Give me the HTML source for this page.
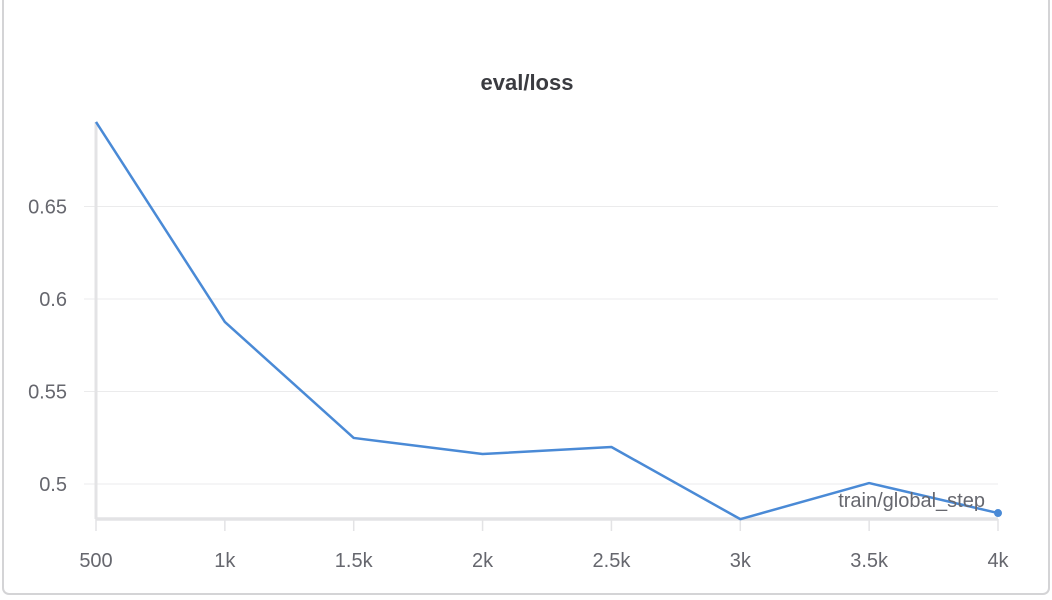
<!DOCTYPE html>
<html><head><meta charset="utf-8"><style>
html,body{margin:0;padding:0;background:#fff;width:1052px;height:600px;overflow:hidden}
svg{display:block;font-family:"Liberation Sans",sans-serif}
</style></head><body>
<svg id="chart" width="1052" height="600">
<rect x="3" y="-10" width="1046" height="604" rx="6" fill="#fff" stroke="#d4d4d6" stroke-width="2"/>
<text x="527" y="90" text-anchor="middle" font-size="22" font-weight="bold" fill="#3a3b40">eval/loss</text>
<g id="grid"></g><g id="axes"></g><g id="series"></g>
<text x="985" y="507" text-anchor="end" font-size="20" fill="#66676e">train/global_step</text>
</svg>
<script>
const steps=[500,1000,1500,2000,2500,3000,3500,4000];
const loss=[0.6957,0.5876,0.5249,0.5162,0.5200,0.4810,0.5005,0.4843];
const xTicks=[500,1000,1500,2000,2500,3000,3500,4000];
const xTickLabels=["500","1k","1.5k","2k","2.5k","3k","3.5k","4k"];
const yTicks=[0.5,0.55,0.6,0.65];
const yTickLabels=["0.5","0.55","0.6","0.65"];
const NS="http://www.w3.org/2000/svg";
const xs=v=>96+(v-500)/3500*902;
const ys=v=>484-(v-0.5)/0.05*92.5;
function mk(t,a,p){const e=document.createElementNS(NS,t);for(const k in a)e.setAttribute(k,a[k]);p.appendChild(e);return e;}
const grid=document.getElementById('grid'),axes=document.getElementById('axes'),ser=document.getElementById('series');
yTicks.forEach((v,i)=>{
 const l=mk('line',{x1:84,x2:998,y1:ys(v),y2:ys(v),stroke:'#ebebec','stroke-width':1},grid);
 
 
 const t=mk('text',{x:67,y:ys(v)+7,'text-anchor':'end','font-size':20,fill:'#66676e'},axes);
 t.textContent=yTickLabels[i];
 
 
});
const ya=mk('line',{x1:96,x2:96,y1:122,y2:519,stroke:'#e3e3e5','stroke-width':3},axes);


const xa=mk('line',{x1:96,x2:998,y1:519,y2:519,stroke:'#e3e3e5','stroke-width':3.5},axes);


xTicks.forEach((v,i)=>{
 const tk=mk('line',{x1:xs(v),x2:xs(v),y1:519,y2:531,stroke:'#e3e3e5','stroke-width':1.5},axes);
 
 
 const t=mk('text',{x:xs(v),y:567,'text-anchor':'middle','font-size':20,fill:'#66676e'},axes);
 t.textContent=xTickLabels[i];
 
 
});
const pl=mk('polyline',{points:steps.map((s,i)=>xs(s)+','+ys(loss[i])).join(' '),fill:'none',stroke:'#4a8ad6','stroke-width':2.5,'stroke-linejoin':'round'},ser);


const n=steps.length-1;
const dot=mk('circle',{cx:xs(steps[n]),cy:ys(loss[n]),r:4,fill:'#4a8ad6'},ser);


</script>
</body></html>
